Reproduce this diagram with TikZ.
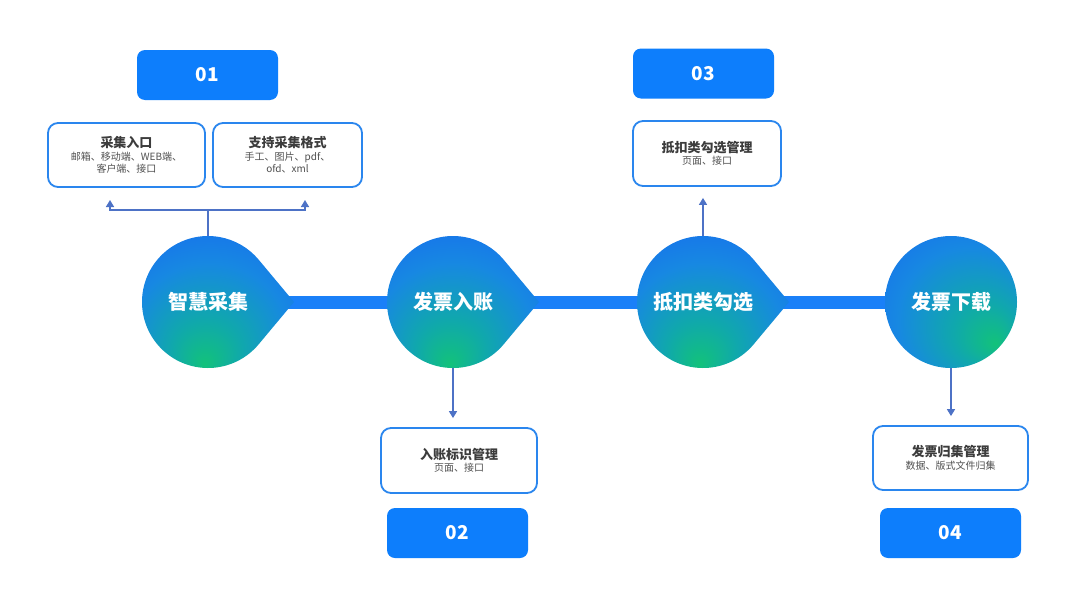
\documentclass[tikz,border=0pt]{standalone}
\usepackage{fontspec}
\setmainfont{Noto Sans CJK SC}
\usetikzlibrary{arrows.meta,calc}
\pgfdeclarelayer{background}
\pgfsetlayers{background,main}
\definecolor{dblue}{HTML}{1668F0}
\definecolor{dblue2}{HTML}{1788E2}
\definecolor{dteal}{HTML}{10A8AC}
\definecolor{dgreen}{HTML}{12C27A}
\definecolor{numblue}{HTML}{0D7EFC}
\definecolor{barblue}{HTML}{1A80F8}
\definecolor{edgeblue}{HTML}{2A86EE}
\definecolor{arrblue}{HTML}{4D72C6}
\definecolor{titlegray}{HTML}{3C3C3C}
\definecolor{subgray}{HTML}{505050}
\pgfdeclareradialshading{dropshade}{\pgfpoint{-3bp}{-21bp}}{color(0bp)=(dgreen); color(11bp)=(dteal); color(25bp)=(dblue2); color(40bp)=(dblue); color(50bp)=(dblue)}
\pgfdeclareradialshading{roundshade}{\pgfpoint{17bp}{-16bp}}{color(0bp)=(dgreen); color(12bp)=(dteal); color(28bp)=(dblue2); color(44bp)=(dblue); color(50bp)=(dblue)}
\tikzset{
  numbox/.style={fill=numblue, rounded corners=8pt, minimum width=141pt, minimum height=50pt, inner sep=0pt,
    text=white, font=\bfseries\fontsize{19}{22}\selectfont},
  infobox/.style={draw=edgeblue, line width=1.8pt, fill=white, rounded corners=10pt, inner sep=0pt,
    align=center, text=subgray, font=\fontsize{10}{12.5}\selectfont},
  stage/.style={circle, minimum size=132pt, inner sep=0pt, text=white, font=\bfseries\fontsize{20}{24}\selectfont},
  conn/.style={draw=arrblue, line width=1.5pt},
  arr/.style={conn, -{Triangle[width=8pt,length=7pt]}},
  bar/.style={draw=barblue, line width=13pt},
}
\newcommand{\ttl}[1]{{\color{titlegray}\bfseries\fontsize{13}{15}\selectfont #1}}
\begin{document}
\begin{tikzpicture}[x=1pt,y=-1pt]
\useasboundingbox (0,0) rectangle (1080,608);
% stages
\node[stage] (c1) at (208,302) {智慧采集};
\node[stage] (c2) at (453,302) {发票入账};
\node[stage] (c3) at (703,302) {抵扣类勾选};
\node[stage] (c4) at (951,302) {发票下载};
% number boxes
\node[numbox] (n1) at (207.5,75) {01};
\node[numbox] (n3) at (703.5,73.5) {03};
\node[numbox] (n2) at (457.5,533) {02};
\node[numbox] (n4) at (950.5,533) {04};
% info boxes
\node[infobox, minimum width=157pt, minimum height=64pt] (b1) at (126.5,155) {\ttl{采集入口}\\邮箱、移动端、WEB端、\\客户端、接口};
\node[infobox, minimum width=149pt, minimum height=64pt] (b2) at (287.5,155) {\ttl{支持采集格式}\\手工、图片、pdf、\\ofd、xml};
\node[infobox, minimum width=148pt, minimum height=65pt] (b3) at (707,153.5) {\ttl{抵扣类勾选管理}\\页面、接口};
\node[infobox, minimum width=156pt, minimum height=65pt] (b4) at (459,460.5) {\ttl{入账标识管理}\\页面、接口};
\node[infobox, minimum width=155pt, minimum height=64pt] (b5) at (950.5,458) {\ttl{发票归集管理}\\数据、版式文件归集};
% connectors
\coordinate (j1) at (208,210);
\coordinate (a1) at (110,200);
\coordinate (a2) at (305,200);
\draw[conn] (c1.north) -- (j1);
\draw[arr] (j1) -| (a1);
\draw[arr] (j1) -| (a2);
\draw[arr, shorten >=9pt] (c2.south) -- (c2.south |- b4.north);
\draw[arr, shorten >=11pt] (c3.north) -- (c3.north |- b3.south);
\draw[arr, shorten >=9pt] (c4.south) -- (c4.south |- b5.north);
\begin{pgfonlayer}{background}
\fill[white] (0,0) rectangle (1080,608);
\draw[bar] (c1.center) -- (c4.center);
\foreach \c in {c1,c2,c3}{
  \shade[shading=dropshade] ($(\c)+(86,0)$) -- ($(\c)+(40:66)$) arc[start angle=40,end angle=320,radius=66] -- cycle;
}
\shade[shading=roundshade] (c4) circle[radius=66];
\end{pgfonlayer}
\end{tikzpicture}
\end{document}
